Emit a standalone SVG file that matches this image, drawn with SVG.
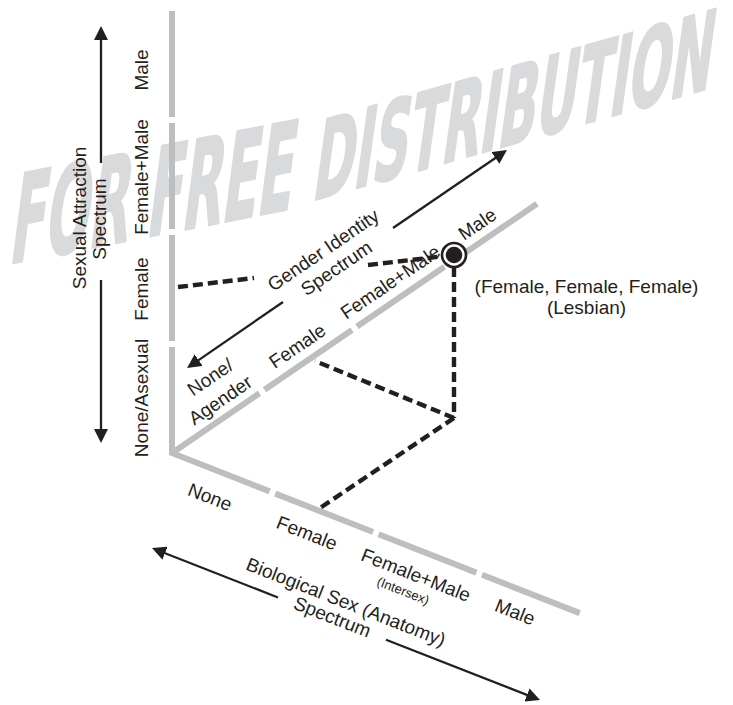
<svg xmlns="http://www.w3.org/2000/svg" width="733" height="705" viewBox="0 0 733 705">
  <defs>
    <marker id="head" viewBox="0 0 14 14" markerWidth="14" markerHeight="14" refX="4" refY="7" orient="auto" markerUnits="userSpaceOnUse">
      <path d="M0,0 L14,7 L0,14 z" fill="#231f20"/>
    </marker>
  </defs>
  <style>
    .wm{font-family:"Liberation Sans Narrow","DejaVu Sans Condensed","Liberation Sans",sans-serif;font-weight:bold;fill:#d9dadc;stroke:#d9dadc;stroke-width:2.5;stroke-linejoin:round}
    .axis{stroke:#bcbec0;stroke-width:6;fill:none;stroke-linejoin:miter}
    .arrow{stroke:#231f20;stroke-width:2.3;fill:none;marker-end:url(#head)}
    .dash{stroke:#231f20;stroke-width:4.4;stroke-dasharray:10 5;fill:none}
    text{font-family:"Liberation Sans",Arial,Helvetica,sans-serif;fill:#231f20}
    .lbl{font-size:19px;text-anchor:middle}
    .small{font-size:13px;text-anchor:middle}
  </style>

  <rect width="733" height="705" fill="#ffffff"/>

  <!-- watermark, set in perspective: left words larger and flatter -->
  <g id="watermark">
    <text class="wm" font-size="125" transform="matrix(0.982,-0.191,-0.13,0.991,8,264)" x="0" y="0" textLength="288" lengthAdjust="spacingAndGlyphs">FOR FREE</text>
    <text class="wm" font-size="112" transform="matrix(0.962,-0.272,-0.14,0.99,311,201)" x="0" y="0" textLength="414" lengthAdjust="spacingAndGlyphs">DISTRIBUTION</text>
  </g>

  <!-- sexual attraction axis (vertical) -->
  <g id="axis-attraction">
    <path class="axis" d="M172,11 V117 M172,123 V229 M172,235 V341"/>
    <path class="axis" d="M172,347 V453 L269.7,491.4"/>
    <text class="lbl" transform="translate(148,70) rotate(-90)">Male</text>
    <text class="lbl" transform="translate(148,177) rotate(-90)">Female+Male</text>
    <text class="lbl" transform="translate(148,289) rotate(-90)">Female</text>
    <text class="lbl" transform="translate(148,398) rotate(-90)">None/Asexual</text>
    <text class="lbl" transform="translate(86,218) rotate(-90)">Sexual Attraction</text>
    <text class="lbl" transform="translate(105.5,219) rotate(-90)">Spectrum</text>
    <line class="arrow" x1="101" y1="163" x2="101" y2="36"/>
    <line class="arrow" x1="101" y1="280" x2="101" y2="433"/>
  </g>

  <!-- gender identity axis (rising diagonal) -->
  <g id="axis-gender">
    <path class="axis" d="M172,453 L259.5,393.2 M264.5,389.8 L352,330 M357,326.6 L444.5,266.8 M449.5,263.5 L537,203.7"/>
    <text class="lbl" transform="translate(214,382.5) rotate(-34.3)">None/</text>
    <text class="lbl" transform="translate(224,405.5) rotate(-34.3)">Agender</text>
    <text class="lbl" transform="translate(301,351.5) rotate(-34.3)">Female</text>
    <text class="lbl" transform="translate(394,287.5) rotate(-34.3)">Female+Male</text>
    <text class="lbl" transform="translate(481,229.5) rotate(-34.3)">Male</text>
    <text class="lbl" transform="translate(327,255.5) rotate(-34.3)">Gender Identity</text>
    <text class="lbl" transform="translate(340,273.5) rotate(-34.3)">Spectrum</text>
    <line class="arrow" x1="393" y1="228" x2="498.7" y2="155.7"/>
    <line class="arrow" x1="283" y1="302" x2="195.3" y2="362.4"/>
  </g>

  <!-- biological sex axis (falling diagonal) -->
  <g id="axis-sex">
    <path class="axis" d="M275.3,493.6 L373.1,532 M378.6,534.2 L476.4,572.6 M482,574.7 L579.7,613.1"/>
    <text class="lbl" transform="translate(207.6,503) rotate(21.4)">None</text>
    <text class="lbl" transform="translate(304.6,539) rotate(21.4)">Female</text>
    <text class="lbl" transform="translate(413.6,581) rotate(21.4)">Female+Male</text>
    <text class="small" transform="translate(401.5,595) rotate(21.4)">(Intersex)</text>
    <text class="lbl" transform="translate(512.6,618) rotate(21.4)">Male</text>
    <text class="lbl" transform="translate(343.6,608) rotate(21.4)">Biological Sex (Anatomy)</text>
    <text class="lbl" transform="translate(330,623) rotate(21.4)">Spectrum</text>
    <line class="arrow" x1="278" y1="597.5" x2="161.3" y2="551.7"/>
    <line class="arrow" x1="386" y1="639.7" x2="530.7" y2="696.4"/>
  </g>

  <!-- projection connectors -->
  <g id="connectors">
    <line class="dash" x1="178" y1="287" x2="254" y2="278"/>
    <line class="dash" x1="368" y1="265" x2="445" y2="256"/>
    <line class="dash" x1="454" y1="267" x2="454" y2="418"/>
    <line class="dash" x1="454" y1="418" x2="315" y2="361"/>
    <line class="dash" x1="454" y1="418" x2="320" y2="508"/>
  </g>

  <!-- plotted point -->
  <g id="point">
    <circle cx="454" cy="255" r="12" fill="#ffffff" stroke="#231f20" stroke-width="2.6"/>
    <circle cx="454" cy="255" r="8.3" fill="#231f20"/>
    <text class="lbl" x="586.5" y="293">(Female, Female, Female)</text>
    <text class="lbl" x="586.5" y="314">(Lesbian)</text>
  </g>
</svg>
